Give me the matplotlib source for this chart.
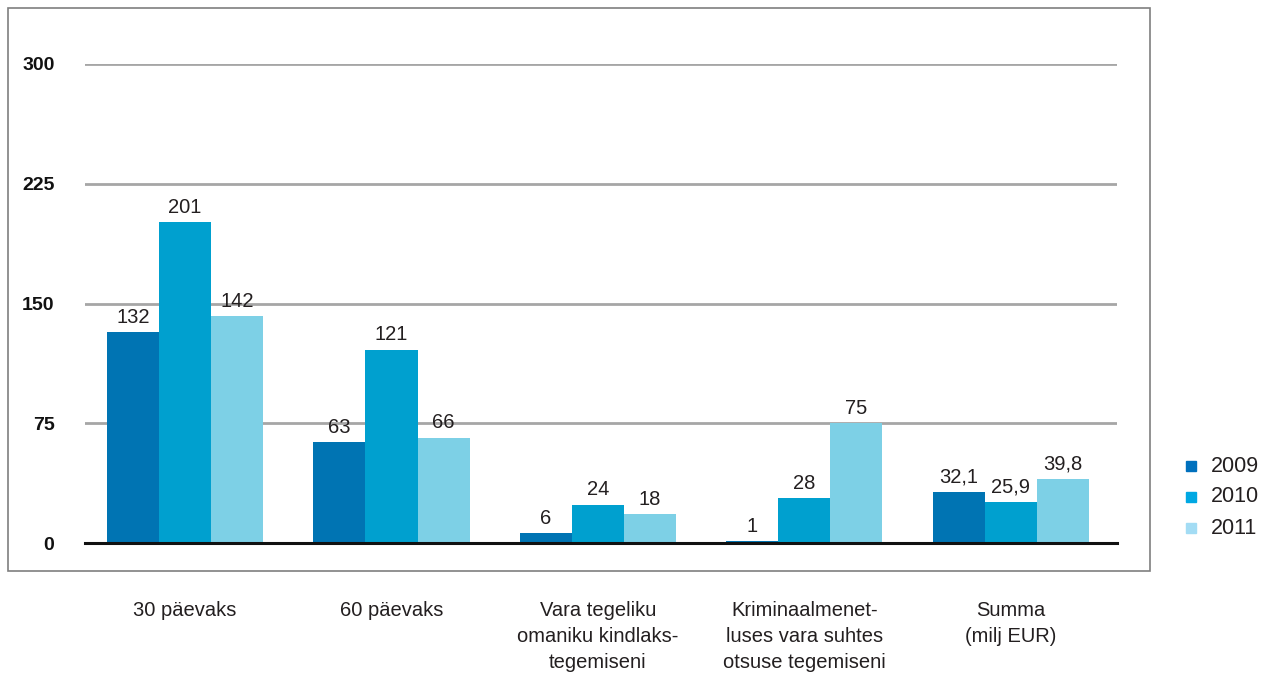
import numpy as np
import matplotlib.pyplot as plt
from matplotlib.patches import Rectangle
from matplotlib import font_manager

categories = ["30 päevaks", "60 päevaks",
              "Vara tegeliku\nomaniku kindlaks-\ntegemiseni",
              "Kriminaalmenet-\nluses vara suhtes\notsuse tegemiseni",
              "Summa\n(milj EUR)"]
years = ["2009", "2010", "2011"]
v2009 = [132, 63, 6, 1, 32.1]
v2010 = [201, 121, 24, 28, 25.9]
v2011 = [142, 66, 18, 75, 39.8]
yticks = [0, 75, 150, 225, 300]

colors = ["#0074b3", "#00a0cf", "#7dd0e6"]
legend_colors = ["#0070bd", "#00a8e3", "#a3dcf4"]

names = {f.name for f in font_manager.fontManager.ttflist}
fam = ["Liberation Sans Narrow", "Liberation Sans", "DejaVu Sans"]
fam = [f for f in fam if f in names] or ["DejaVu Sans"]
plt.rcParams["font.family"] = fam

W, H = 1263, 679
fig = plt.figure(figsize=(W / 100, H / 100), dpi=100)

# outer box
fig.patches.append(Rectangle((8 / W, 1 - 571 / H), (1150 - 8) / W, (571 - 8) / H,
                             transform=fig.transFigure, fill=False,
                             edgecolor="#7f7f7f", linewidth=1.2))

ax = fig.add_axes([85 / W, 1 - 543 / H, (1117 - 85) / W, (543 - 64) / H])
ax.set_xlim(-0.485, 4.515)
ax.set_ylim(0, 300)

x = np.arange(len(categories))
bw = 0.252
series = [v2009, v2010, v2011]
for i, vals in enumerate(series):
    pos = x + (i - 1) * bw
    bars = ax.bar(pos, vals, bw, color=colors[i], zorder=3)
    for b, v in zip(bars, vals):
        txt = f"{v:g}"
        if isinstance(v, float):
            txt = f"{v:.1f}".replace(".", ",")
        ax.annotate(txt, (b.get_x() + b.get_width() / 2, v),
                    xytext=(0, 4), textcoords="offset points",
                    ha="center", va="bottom", fontsize=14.5, color="#231f20")

for y in yticks[1:]:
    ax.axhline(y, color="#a6a6a6", linewidth=2, zorder=1)
ax.axhline(0, color="#111111", linewidth=2.2, zorder=4, clip_on=False)

for s in ax.spines.values():
    s.set_visible(False)
ax.set_yticks(yticks)
ax.set_yticklabels([str(t) for t in yticks], fontweight="bold", fontsize=14, color="#111111")
ax.tick_params(axis="y", length=0, pad=22)
ax.set_xticks(x)
ax.set_xticklabels(categories, fontsize=14.5, color="#231f20", linespacing=1.45)
ax.tick_params(axis="x", length=0, pad=42)

# legend
for i, yr in enumerate(years):
    yy = 1 - (466 + i * 31) / H
    fig.patches.append(Rectangle((1186 / W, yy - 5 / H), 10 / W, 10 / H,
                                 transform=fig.transFigure, color=legend_colors[i]))
    fig.text(1211 / W, yy, yr, fontsize=15.5, va="center", ha="left", color="#231f20")

fig.savefig("out.png", dpi=100)
